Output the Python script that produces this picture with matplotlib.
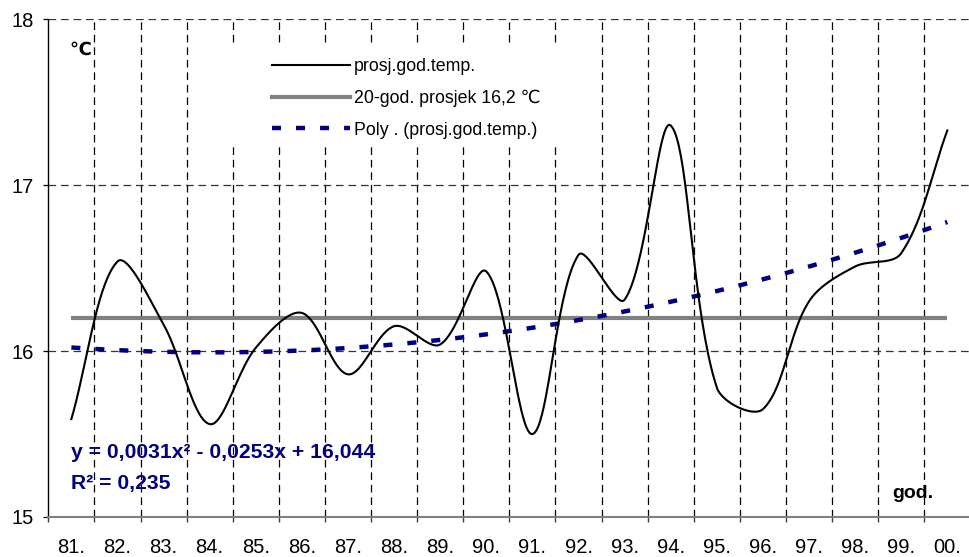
import numpy as np
import matplotlib
matplotlib.use("Agg")
import matplotlib.pyplot as plt
from matplotlib.lines import Line2D
from matplotlib.patches import Rectangle

plt.rcParams['font.family'] = ['Liberation Sans', 'DejaVu Sans']
plt.rcParams['lines.scale_dashes'] = False

# ---- data ----
years = ["81.", "82.", "83.", "84.", "85.", "86.", "87.", "88.", "89.", "90.",
         "91.", "92.", "93.", "94.", "95.", "96.", "97.", "98.", "99.", "00."]
temps = [15.59, 16.54, 16.16, 15.56, 16.02, 16.23, 15.86, 16.15, 16.04, 16.48,
         15.50, 16.58, 16.31, 17.36, 15.78, 15.65, 16.30, 16.51, 16.59, 17.33]
avg_20 = 16.2
poly_a, poly_b, poly_c = 0.0031, -0.0253, 16.044
r2 = 0.235
yticks = [15, 16, 17, 18]

W, H = 969, 557


def smooth(xs, ys, sx, sy, n=40):
    """Excel-like smoothed line: Bezier segments, control points scaled by
    chord lengths measured in display (pixel) space."""
    P = np.column_stack([np.asarray(xs, float) * sx, np.asarray(ys, float) * sy])
    m = len(P)
    out = []
    for i in range(m - 1):
        p0 = P[i - 1] if i > 0 else P[i]
        p1 = P[i]
        p2 = P[i + 1]
        p3 = P[i + 2] if i + 2 < m else P[i + 1]
        d01 = np.hypot(*(p1 - p0))
        d12 = np.hypot(*(p2 - p1))
        d23 = np.hypot(*(p3 - p2))
        f1 = d12 / (d01 + d12) / 3.0
        f2 = d12 / (d12 + d23) / 3.0
        c1 = p1 + (p2 - p0) * f1
        c2 = p2 - (p3 - p1) * f2
        t = np.linspace(0, 1, n, endpoint=(i == m - 2))[:, None]
        seg = (1 - t) ** 3 * p1 + 3 * (1 - t) ** 2 * t * c1 + 3 * (1 - t) * t ** 2 * c2 + t ** 3 * p2
        out.append(seg)
    S = np.vstack(out)
    return S[:, 0] / sx, S[:, 1] / sy


fig = plt.figure(figsize=(W / 100, H / 100), dpi=100)
ax = fig.add_axes([48.3 / W, 40 / H, (970.4 - 48.3) / W, (517 - 19.3) / H])
ax.set_axisbelow(True)

x = np.arange(len(years))
ax.set_xlim(-0.5, len(years) - 0.5)
ax.set_ylim(15, 18)

# grid
for b in np.arange(0.5, len(years) - 0.5, 1.0):
    ax.axvline(b, color='black', lw=0.9, linestyle=(0, (5.5, 3.5)), zorder=0.5)
for yv in yticks[1:]:
    ax.axhline(yv, color='#333333', lw=0.9, linestyle=(0, (5.5, 3.5)), zorder=0.5)

# legend background (white, no border)
ax.add_patch(Rectangle((222 / W, 1 - 145 / H), (582 - 222) / W, (145 - 43) / H,
                       transform=fig.transFigure, facecolor='white', edgecolor='none',
                       zorder=1, clip_on=False))

# average line
ax.plot([x[0], x[-1]], [avg_20, avg_20], color='#808080', lw=3, solid_capstyle='butt', zorder=2)

# trend line
xt = np.linspace(1, len(years), 300)
yt = poly_a * xt ** 2 + poly_b * xt + poly_c
ax.plot(xt - 1, yt, color='#000080', lw=3.2, linestyle=(0, (6.5, 10.8)),
        dash_capstyle='butt', zorder=3)

# smoothed data line (pixel scale: 46.1 px per category, 166 px per degree)
smx, smy = smooth(x, temps, 46.1, 166.0)
ax.plot(smx, smy, color='black', lw=1.5, zorder=4)

# axes styling
for s in ['top', 'right']:
    ax.spines[s].set_visible(False)
ax.spines['left'].set_color('black')
ax.spines['left'].set_linewidth(1.0)
ax.spines['bottom'].set_color('#808080')
ax.spines['bottom'].set_linewidth(1.5)

ax.set_yticks(yticks)
ax.set_yticklabels([str(v) for v in yticks])
ax.tick_params(axis='y', length=3.6, width=0.9, pad=7, labelsize=14.5, color='black')

ax.set_xticks(np.arange(-0.5, len(years) + 0.5, 1.0))
ax.set_xticklabels([])
ax.set_xticks(x, minor=True)
ax.set_xticklabels(years, minor=True)
ax.tick_params(axis='x', which='major', length=3.6, width=1.0, color='#404040')
ax.tick_params(axis='x', which='minor', length=0, pad=15, labelsize=14.5)

# legend
handles = [
    Line2D([], [], color='black', lw=1.5),
    Line2D([], [], color='#808080', lw=3),
    Line2D([], [], color='#000080', lw=3.2, linestyle=(0, (6.5, 10.8)), dash_capstyle='butt'),
]
labels = ["prosj.god.temp.", "20-god. prosjek 16,2 \u2103", "Poly . (prosj.god.temp.)"]
leg = ax.legend(handles, labels, loc='upper left', bbox_to_anchor=(272 / W, 1 - 58 / H),
                bbox_transform=fig.transFigure, frameon=False, borderpad=0, borderaxespad=0,
                handlelength=4.4, handletextpad=0.2, labelspacing=0.82, fontsize=12.8)
leg.set_zorder(6)

# annotations
fig.text(69 / W, 1 - 50 / H, "\u2103", fontsize=13, fontweight='bold', ha='left', va='center')
fig.text(892 / W, 1 - 494 / H, "god.", fontsize=14, fontweight='bold', ha='left', va='center')
fig.text(71 / W, 1 - 453 / H, "y = 0,0031x\u00b2 - 0,0253x + 16,044", fontsize=15.2,
         fontweight='bold', color='#000080', ha='left', va='center')
fig.text(71 / W, 1 - 483 / H, "R\u00b2 = 0,235", fontsize=15.2,
         fontweight='bold', color='#000080', ha='left', va='center')

fig.savefig("out.png", dpi=100)
